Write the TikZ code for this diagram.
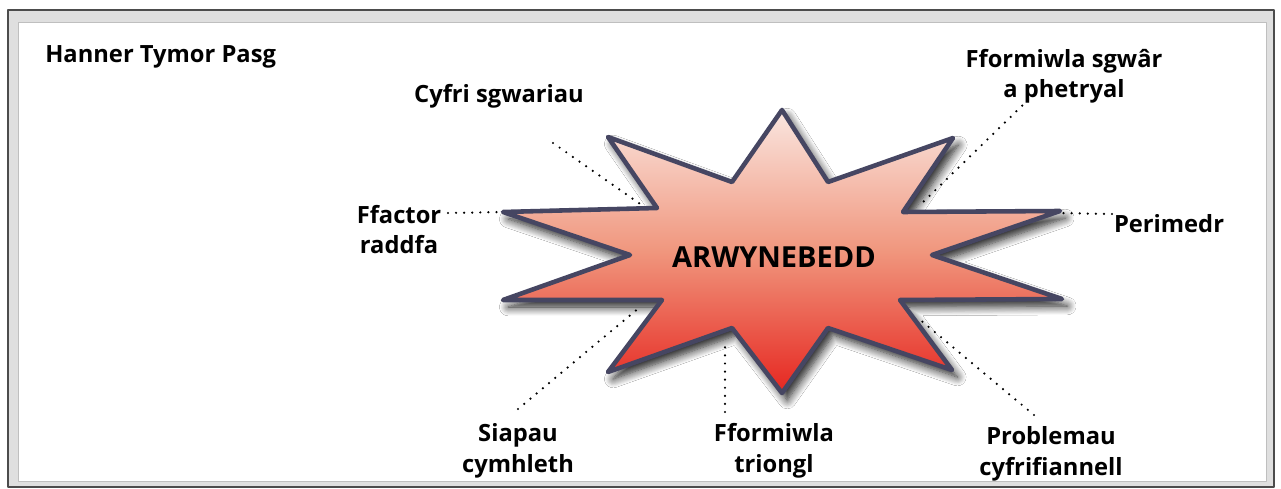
\documentclass[tikz,border=0pt]{standalone}
\usepackage{fontspec}
\setmainfont{Open Sans}
\usetikzlibrary{shadows.blur}
\definecolor{rimblue}{RGB}{70,70,98}
\definecolor{starlight}{RGB}{250,230,224}
\definecolor{starmid}{RGB}{240,150,125}
\definecolor{stardark}{RGB}{230,38,32}
\begin{document}
\begin{tikzpicture}[x=0.02cm, y=-0.02cm, line join=round, line cap=round,
	lbl/.style={font=\fontsize{13.5}{17.6}\selectfont\bfseries, align=center, inner sep=0pt, anchor=base},
	dots/.style={line width=1.4pt, dash pattern=on 0pt off 4.6pt},
	rim/.style={draw=rimblue, line width=2.6pt}]
	\fill[white] (0,0) rectangle (1281,489);
	\useasboundingbox (0,0) rectangle (1281,489);
	\fill[gray!25, draw=gray!60!black, line width=1pt] (8,10) rectangle (1274,487);
	\fill[white, draw=gray!50, line width=0.5pt] (18,22) rectangle (1266,481);
	\coordinate (t1) at (782,110); \coordinate (i1) at (828,182);
	\coordinate (t2) at (953,138); \coordinate (i2) at (903,212);
	\coordinate (t3) at (1060,211); \coordinate (i3) at (932,255);
	\coordinate (t4) at (1062,299); \coordinate (i4) at (900,300);
	\coordinate (t5) at (952,370); \coordinate (i5) at (828,328);
	\coordinate (t6) at (782,393); \coordinate (i6) at (732,328);
	\coordinate (t7) at (608,372); \coordinate (i7) at (662,300);
	\coordinate (t8) at (503,300); \coordinate (i8) at (630,255);
	\coordinate (t9) at (503,212); \coordinate (i9) at (657,208);
	\coordinate (t10) at (608,137); \coordinate (i10) at (732,182);
	\path[rim, top color=starlight, bottom color=stardark, middle color=starmid,
		blur shadow={shadow xshift=3pt, shadow yshift=-4pt, shadow opacity=90, shadow blur radius=5pt, shadow blur steps=10}]
		(t1)--(i1)--(t2)--(i2)--(t3)--(i3)--(t4)--(i4)--(t5)--(i5)--(t6)--(i6)--(t7)--(i7)--(t8)--(i8)--(t9)--(i9)--(t10)--(i10)--cycle;
	\node[lbl, font=\fontsize{16.5}{20}\selectfont\bfseries] (arwyn) at (774,268) {ARWYNEBEDD};
	\node[lbl, anchor=base west] (title) at (45,63) {Hanner Tymor Pasg};
	\node[lbl] (cyfri) at (499,103) {Cyfri sgwariau};
	\node[lbl] (ffactor) at (399,254) {Ffactor\\raddfa};
	\node[lbl] (siapau) at (518,472) {Siapau\\cymhleth};
	\node[lbl] (triongl) at (774,472) {Fformiwla\\triongl};
	\node[lbl] (sgwar) at (1064,98) {Fformiwla sgwâr\\a phetryal};
	\node[lbl] (perimedr) at (1169,233) {Perimedr};
	\node[lbl] (problemau) at (1051,475) {Problemau\\cyfrifiannell};
	\coordinate (c1) at (643,206);
	\coordinate (c3) at (640,307);
	\coordinate (c4) at (725,347);
	\coordinate (c5) at (918,207);
	\coordinate (c6) at (1058,213);
	\coordinate (c7) at (918,318);
	\draw[dots] ([shift={(54,40)}]cyfri.base) -- (c1);
	\draw[dots] ([shift={(49,-41)}]ffactor.base) -- (t9);
	\draw[dots] ([shift={(0,-63)}]siapau.base) -- (c3);
	\draw[dots] ([shift={(-49,-60)}]triongl.base) -- (c4);
	\draw[dots] ([shift={(-36,2)}]sgwar.base) -- (c5);
	\draw[dots] ([shift={(-57,-19)}]perimedr.base) -- (c6);
	\draw[dots] ([shift={(-17,-60)}]problemau.base) -- (c7);
\end{tikzpicture}
\end{document}
